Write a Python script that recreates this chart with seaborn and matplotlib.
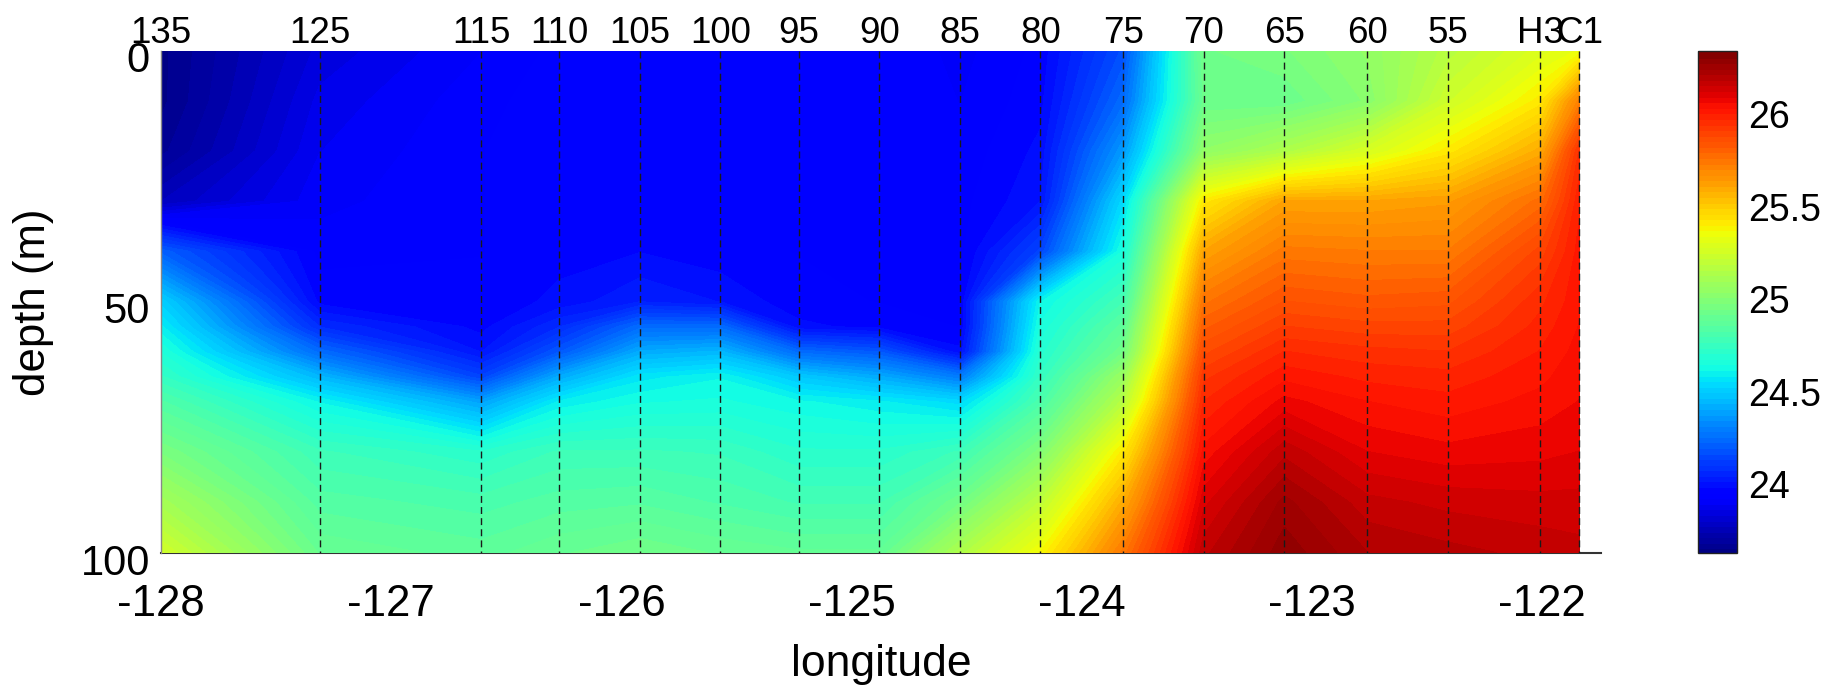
import numpy as np
import matplotlib
matplotlib.use('Agg')
import matplotlib.pyplot as plt
import matplotlib.transforms as mtransforms
import seaborn as sns

# ── data: potential density section along the line ─────────────
station_names = ['135', '125', '115', '110', '105', '100', '95', '90', '85',
                 '80', '75', '70', '65', '60', '55', 'H3', 'C1']
station_lon = [-128.00, -127.31, -126.61, -126.27, -125.92, -125.57, -125.23,
               -124.88, -124.53, -124.18, -123.82, -123.47, -123.12, -122.76,
               -122.41, -122.01, -121.84]
depth = [0, 10, 20, 30, 40, 50, 55, 60, 65, 70, 80, 90, 100]

# values per station, top to bottom (one entry per depth)
st_135 = [23.65, 23.65, 23.68, 23.78, 24.22, 24.52, 24.60, 24.68, 24.75, 24.84, 24.98, 25.12, 25.26]
st_125 = [23.85, 23.88, 23.90, 23.92, 23.95, 23.98, 24.08, 24.25, 24.45, 24.62, 24.78, 24.85, 24.92]
st_115 = [23.93, 23.95, 23.96, 23.96, 23.96, 23.97, 23.98, 24.02, 24.15, 24.40, 24.72, 24.82, 24.88]
st_110 = [23.97, 23.98, 23.98, 23.98, 23.98, 24.00, 24.08, 24.20, 24.42, 24.60, 24.78, 24.85, 24.92]
st_105 = [23.98, 23.98, 23.98, 23.99, 23.99, 24.05, 24.25, 24.42, 24.58, 24.65, 24.78, 24.86, 24.95]
st_100 = [23.97, 23.97, 23.97, 23.97, 23.97, 24.02, 24.25, 24.45, 24.62, 24.66, 24.77, 24.83, 24.92]
st_95  = [23.96, 23.96, 23.96, 23.96, 23.96, 23.97, 24.00, 24.25, 24.50, 24.63, 24.72, 24.80, 24.90]
st_90  = [23.96, 23.96, 23.96, 23.96, 23.96, 23.96, 23.98, 24.20, 24.42, 24.60, 24.72, 24.80, 24.90]
st_85  = [23.92, 23.93, 23.94, 23.95, 23.95, 23.96, 23.96, 24.00, 24.30, 24.55, 24.78, 24.95, 25.15]
st_80  = [23.97, 23.98, 24.00, 24.02, 24.15, 24.62, 24.66, 24.70, 24.75, 24.82, 25.00, 25.20, 25.38]
st_75  = [24.18, 24.25, 24.38, 24.55, 24.66, 24.80, 24.88, 24.95, 25.08, 25.18, 25.42, 25.60, 25.75]
st_70  = [24.95, 24.93, 25.05, 25.42, 25.62, 25.76, 25.82, 25.88, 25.94, 25.98, 26.05, 26.12, 26.18]
st_65  = [24.98, 24.93, 25.15, 25.62, 25.75, 25.86, 25.92, 25.98, 26.03, 26.08, 26.18, 26.26, 26.30]
st_60  = [25.05, 25.02, 25.28, 25.62, 25.74, 25.84, 25.90, 25.96, 26.00, 26.04, 26.10, 26.17, 26.22]
st_55  = [25.18, 25.25, 25.42, 25.64, 25.74, 25.85, 25.90, 25.95, 25.99, 26.02, 26.08, 26.15, 26.20]
st_H3  = [25.30, 25.42, 25.60, 25.78, 25.90, 25.97, 25.99, 26.01, 26.03, 26.05, 26.09, 26.14, 26.18]
st_C1  = [25.35, 25.72, 25.95, 26.00, 26.02, 26.03, 26.04, 26.05, 26.06, 26.07, 26.10, 26.14, 26.17]

x_ticks = [-128, -127, -126, -125, -124, -123, -122]
y_ticks = [0, 50, 100]
cbar_ticks = [24, 24.5, 25, 25.5, 26]
cbar_labels = ['24', '24.5', '25', '25.5', '26']
c_min, c_max = 23.63, 26.34

# ── style ───────────────────────────────────────────────────────
sns.set_style('white')
plt.rcParams['font.family'] = ['Liberation Sans', 'DejaVu Sans']
plt.rcParams.update({'text.color': 'black', 'axes.labelcolor': 'black',
                     'xtick.color': 'black', 'ytick.color': 'black'})

section = np.column_stack([st_135, st_125, st_115, st_110, st_105, st_100, st_95,
                           st_90, st_85, st_80, st_75, st_70, st_65, st_60,
                           st_55, st_H3, st_C1])
cmap = matplotlib.colormaps['jet']

fig = plt.figure(figsize=(18.47, 6.9), dpi=100)
ax = fig.add_axes([0.08717, 0.19855, 0.77964, 0.72754])
cax = fig.add_axes([0.91933, 0.19855, 0.02112, 0.72754])

levels = np.linspace(c_min, c_max, 91)
cf = ax.contourf(station_lon, depth, section, levels=levels, cmap=cmap,
                 vmin=c_min, vmax=c_max, zorder=3)
cf.set_edgecolor('face')
cf.set_linewidth(0.6)

# station markers
ax.vlines(station_lon[1:], 0, 100, colors='#1a1a1a', linewidth=1.0,
          linestyles=(0, (5, 3)), zorder=4)
trans = mtransforms.blended_transform_factory(ax.transData, ax.transAxes)
for lon, name in zip(station_lon, station_names):
    ax.text(lon, 1.0165, name, transform=trans, ha='center', va='baseline',
            fontsize=26.5, color='black')

ax.set_xlim(-128, -121.745)
ax.set_ylim(100, 0)
ax.set_xticks(x_ticks)
ax.set_xticklabels([str(t) for t in x_ticks])
ax.set_yticks(y_ticks)
ax.tick_params(axis='x', direction='in', length=11, labelsize=31.5, pad=22, colors='black')
ax.tick_params(axis='y', direction='in', length=11, labelsize=30, pad=8, colors='black')
for lab in ax.get_yticklabels():
    lab.set_transform(lab.get_transform() +
                      mtransforms.ScaledTranslation(0, -0.06, fig.dpi_scale_trans))

for side in ['top', 'right']:
    ax.spines[side].set_visible(False)
ax.spines['left'].set_color('#888888')
ax.spines['left'].set_linewidth(1.0)
ax.spines['left'].set_zorder(5)
ax.spines['bottom'].set_color('#333333')
ax.spines['bottom'].set_linewidth(1.5)

ax.set_xlabel('longitude', fontsize=32, color='black')
ax.xaxis.label.set_va('baseline')
ax.xaxis.set_label_coords(0.5, -0.245)
ax.set_ylabel('depth (m)', fontsize=31.5, color='black')
ax.yaxis.label.set_va('center')
ax.yaxis.set_label_coords(-0.0882, 0.5)

cb = fig.colorbar(cf, cax=cax, ticks=cbar_ticks)
cb.ax.set_yticklabels(cbar_labels)
cb.ax.tick_params(direction='in', left=True, right=True, length=7, width=1,
                  labelsize=27, pad=8, colors='black')
cb.outline.set_edgecolor('#222222')
cb.outline.set_linewidth(1.0)
if cb.solids is not None:
    cb.solids.set_edgecolor('face')

fig.savefig('out.png', dpi=100)
